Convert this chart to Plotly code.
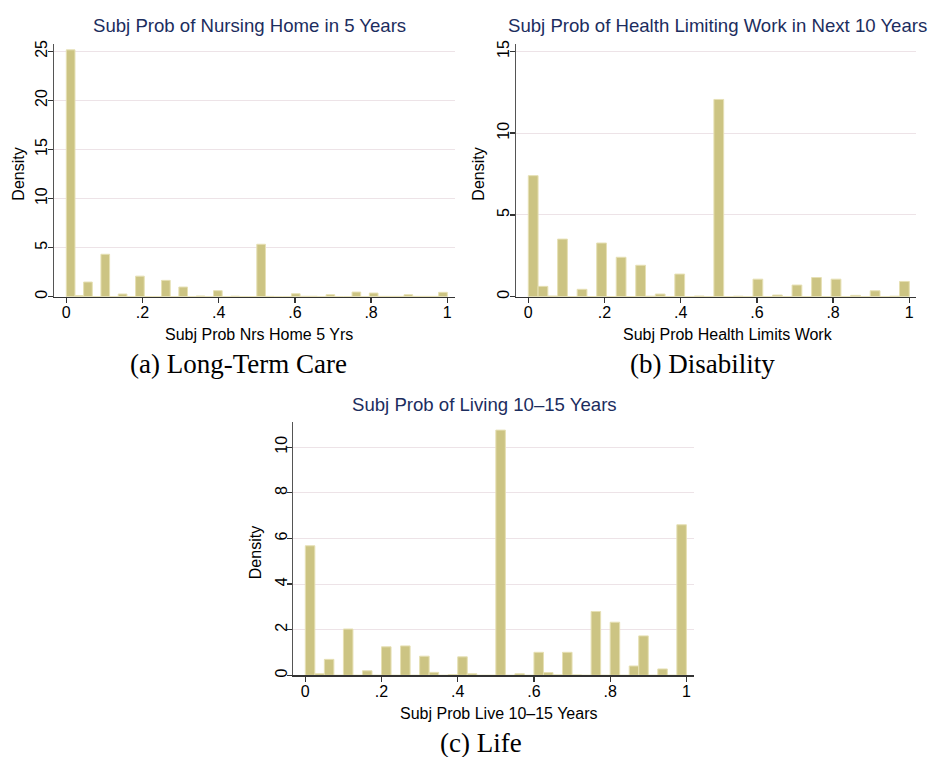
import numpy as np
import plotly.graph_objects as go

# ---------------- data (density per bin) ----------------
ltc_nbins = 44
ltc_density = [25.15, 0.12, 1.49, 0.0, 4.32, 0.0, 0.27, 0.0, 2.09, 0.0, 0.0,
               1.66, 0.0, 0.98, 0.0, 0.07, 0.0, 0.61, 0.0, 0.05, 0.0, 0.0,
               5.34, 0.03, 0.0, 0.0, 0.30, 0.04, 0.04, 0.0, 0.20, 0.0, 0.0,
               0.47, 0.0, 0.37, 0.03, 0.03, 0.03, 0.20, 0.03, 0.03, 0.03, 0.44]

dis_nbins = 39
dis_density = [7.40, 0.63, 0.04, 3.52, 0.0, 0.45, 0.0, 3.28, 0.0, 2.41, 0.0,
               1.92, 0.03, 0.16, 0.0, 1.38, 0.0, 0.04, 0.0, 12.06, 0.0, 0.03,
               0.0, 1.07, 0.0, 0.10, 0.0, 0.71, 0.0, 1.17, 0.0, 1.07, 0.0,
               0.08, 0.0, 0.36, 0.0, 0.03, 0.93]

life_nbins = 40
life_density = [5.68, 0.07, 0.70, 0.0, 2.03, 0.0, 0.20, 0.0, 1.25, 0.0, 1.29,
                0.0, 0.84, 0.13, 0.0, 0.03, 0.81, 0.07, 0.0, 0.0, 10.75, 0.0,
                0.07, 0.0, 1.01, 0.12, 0.02, 1.01, 0.02, 0.0, 2.80, 0.0, 2.33,
                0.0, 0.41, 1.73, 0.0, 0.28, 0.0, 6.60]

x_tickvals = [0, 0.2, 0.4, 0.6, 0.8, 1]
x_ticktext = ["0", ".2", ".4", ".6", ".8", "1"]
ltc_yticks = [0, 5, 10, 15, 20, 25]
dis_yticks = [0, 5, 10, 15]
life_yticks = [0, 2, 4, 6, 8, 10]

titles = ["Subj Prob of Nursing Home in 5 Years",
          "Subj Prob of Health Limiting Work in Next 10 Years",
          "Subj Prob of Living 10\u201315 Years"]
xtitles = ["Subj Prob Nrs Home 5 Yrs", "Subj Prob Health Limits Work",
           "Subj Prob Live 10\u201315 Years"]
captions = ["(a) Long-Term Care", "(b) Disability", "(c) Life"]

# ---------------- styling ----------------
W, H = 931, 757
BAR = "#CCC483"
BAR_EDGE = "#E6E0B4"
GRID = "#EDE3E7"
AXIS = "#333333"
NAVY = "#1C2D5E"
SANS = "Liberation Sans, Arial, sans-serif"
SERIF = "Liberation Serif, Times New Roman, serif"


def fx(px):
    return px / W


def fy(py):
    return 1 - py / H


panels = [
    dict(n=ltc_nbins, d=ltc_density, yt=ltc_yticks,
         xdom=(54, 455), ydom=(295, 40), xr=(-0.0323, 1.0202), yr=(0, 25.78)),
    dict(n=dis_nbins, d=dis_density, yt=dis_yticks,
         xdom=(516, 916), ydom=(295, 40), xr=(-0.0323, 1.0176), yr=(0, 15.47)),
    dict(n=life_nbins, d=life_density, yt=life_yticks,
         xdom=(293.3, 694), ydom=(676.7, 421.7), xr=(-0.0315, 1.020), yr=(0, 11.09)),
]

fig = go.Figure()
layout = dict(width=W, height=H, margin=dict(l=0, r=0, t=0, b=0),
              paper_bgcolor="white", plot_bgcolor="white",
              showlegend=False, bargap=0, font=dict(family=SANS, color="black"))

for i, p in enumerate(panels):
    sfx = "" if i == 0 else str(i + 1)
    n = p["n"]
    centers = (np.arange(n) + 0.5) / n
    fig.add_trace(go.Bar(
        x=centers, y=p["d"], width=1.0 / n,
        marker=dict(color=BAR, line=dict(color=BAR_EDGE, width=1)),
        xaxis="x" + sfx, yaxis="y" + sfx, hoverinfo="x+y"))
    layout["xaxis" + sfx] = dict(
        domain=[fx(p["xdom"][0]), fx(p["xdom"][1])], range=list(p["xr"]),
        anchor="y" + sfx, tickvals=x_tickvals, ticktext=x_ticktext,
        ticks="outside", ticklen=5, tickwidth=1.3, tickcolor=AXIS,
        ticklabelstandoff=-4,
        showline=True, linecolor=AXIS, linewidth=1.3, showgrid=False,
        zeroline=False, tickfont=dict(size=16, family=SANS, color="black"),
        fixedrange=True)
    layout["yaxis" + sfx] = dict(
        domain=[fy(p["ydom"][0]), fy(p["ydom"][1])], range=list(p["yr"]),
        anchor="x" + sfx, tickvals=p["yt"], tickangle=-90,
        ticks="outside", ticklen=5, tickwidth=1.3, tickcolor=AXIS,
        ticklabelstandoff=-6,
        showline=True, linecolor="#555555", linewidth=1.3, showgrid=True,
        gridcolor=GRID, gridwidth=1, zeroline=False,
        tickfont=dict(size=16, family=SANS, color="black"), fixedrange=True)

ann = []
title_pos = [(249.5, 21.7), (717.5, 21.7), (485, 403.3)]
xt_pos = [(258.7, 333), (727.5, 333), (499, 715)]
yt_pos = [(18.3, 171.7), (478.3, 171.7), (256.3, 553.3)]
cap_pos = [(238.3, 363), (702.5, 363), (481, 745)]
for i in range(3):
    ann.append(dict(text=titles[i], x=fx(title_pos[i][0]), y=fy(title_pos[i][1]),
                    xref="paper", yref="paper", showarrow=False,
                    xanchor="center", yanchor="middle",
                    font=dict(size=18.6, family=SANS, color=NAVY)))
    ann.append(dict(text=xtitles[i], x=fx(xt_pos[i][0]), y=fy(xt_pos[i][1]),
                    xref="paper", yref="paper", showarrow=False,
                    xanchor="center", yanchor="middle",
                    font=dict(size=16, family=SANS, color="black")))
    ann.append(dict(text="Density", x=fx(yt_pos[i][0]), y=fy(yt_pos[i][1]),
                    xref="paper", yref="paper", showarrow=False, textangle=-90,
                    xanchor="center", yanchor="middle",
                    font=dict(size=16, family=SANS, color="black")))
    ann.append(dict(text=captions[i], x=fx(cap_pos[i][0]), y=fy(cap_pos[i][1]),
                    xref="paper", yref="paper", showarrow=False,
                    xanchor="center", yanchor="middle",
                    font=dict(size=27, family=SERIF, color="black")))
layout["annotations"] = ann
fig.update_layout(**layout)
fig.write_html("out.html",
               config={"displayModeBar": False, "staticPlot": True},
               post_script="document.body.style.margin='0';"
                           "document.body.style.overflow='hidden';")
